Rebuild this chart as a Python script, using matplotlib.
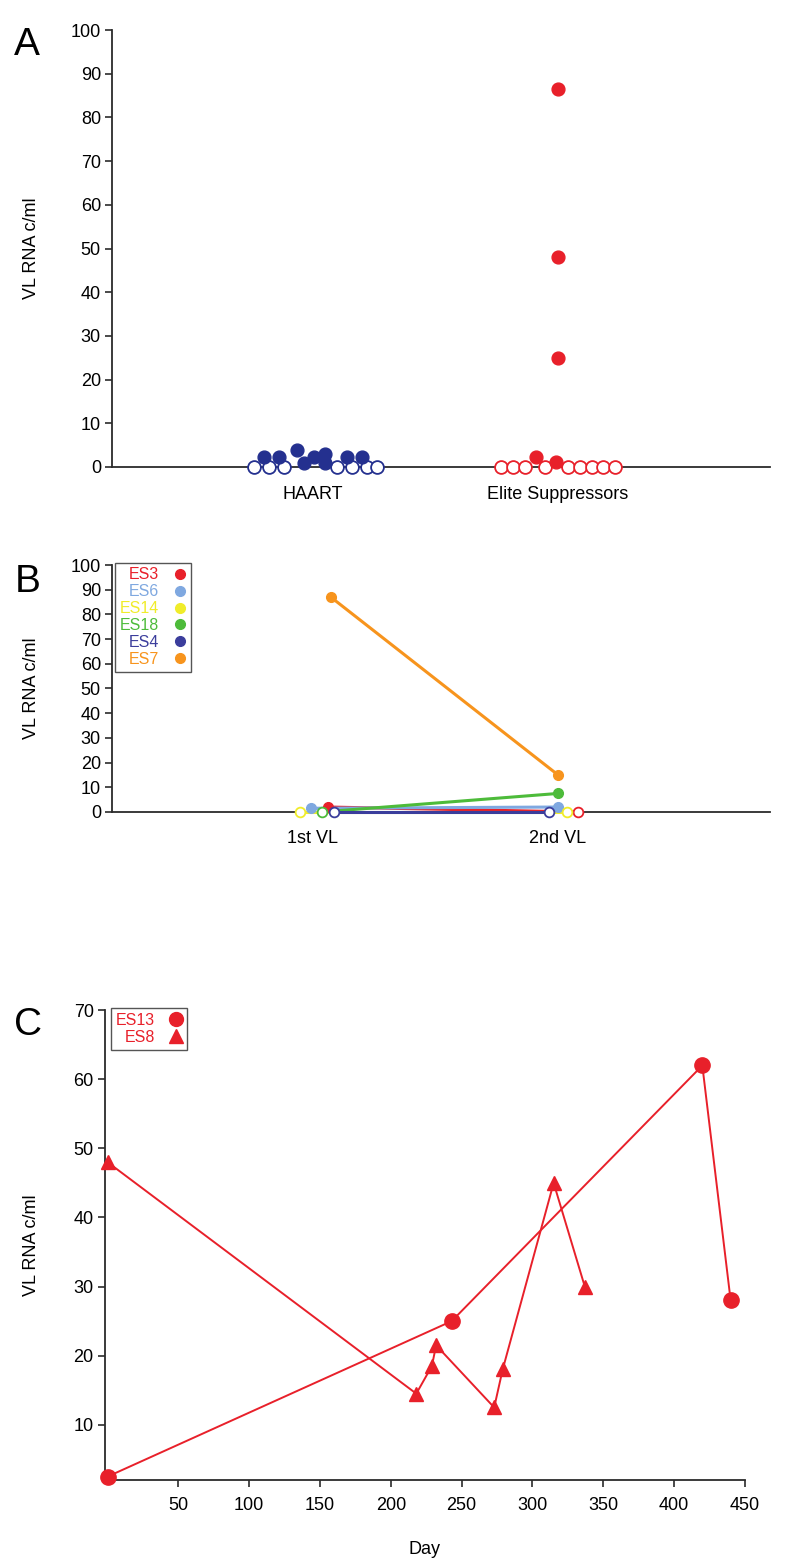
import numpy as np
import matplotlib.pyplot as plt
from matplotlib.lines import Line2D

plt.rcParams['font.family'] = ['Liberation Sans', 'DejaVu Sans']

# panel A: viral load per group, x jitter around category
groups = ['HAART', 'Elite Suppressors']
haart_det_dx = [-0.2, -0.14, -0.065, -0.035, 0.005, 0.05, 0.05, 0.14, 0.2]
haart_det_vl = [2.2, 2.2, 3.9, 0.8, 2.2, 2.9, 0.8, 2.2, 2.2]
haart_und_dx = [-0.24, -0.18, -0.12, 0.1, 0.16, 0.22, 0.26]
es_det_dx = [0.0, 0.0, 0.0, -0.09, -0.008]
es_det_vl = [86.5, 48, 25, 2.2, 1.2]
es_und_dx = [-0.232, -0.184, -0.136, -0.053, 0.042, 0.090, 0.138, 0.185, 0.232]

# panel B: paired viral loads
visits = ['1st VL', '2nd VL']
b_ids = ['ES3', 'ES6', 'ES14', 'ES18', 'ES4', 'ES7']
b_colors = ['#e8202a', '#7fa8e0', '#f0ec2a', '#4dbb3a', '#3b3d9c', '#f7941d']
b_first = [2.0, 1.5, 0.0, 0.0, 0.0, 87.0]
b_second = [0.0, 2.0, 0.0, 7.5, 0.0, 15.0]
b_first_dx = [0.061, -0.008, -0.053, 0.037, 0.086, 0.073]
b_second_dx = [0.082, 0.0, 0.037, 0.0, -0.037, 0.0]

# panel C: follow-up over days
es13_day = [0, 243, 420, 440]
es13_vl = [2.5, 25, 62, 28]
es8_day = [0, 218, 229, 232, 273, 279, 315, 337]
es8_vl = [48, 14.5, 18.5, 21.5, 12.5, 18, 45, 30]

red = '#e8202a'
navy = '#24308f'
spine_c = '#2b2b2b'

fig = plt.figure(figsize=(8, 15.66), dpi=100)
axA = fig.add_axes([0.14, 0.7018, 0.8225, 0.279])
axB = fig.add_axes([0.14, 0.4815, 0.8225, 0.1577])
axC = fig.add_axes([0.131, 0.0549, 0.800, 0.300])

def style(ax):
    for s in ['top', 'right']:
        ax.spines[s].set_visible(False)
    for s in ['left', 'bottom']:
        ax.spines[s].set_linewidth(1.3)
        ax.spines[s].set_color(spine_c)
    ax.tick_params(axis='y', direction='out', length=5, width=1.2, color=spine_c, labelsize=13, pad=3)
    ax.set_ylabel('VL RNA c/ml', fontsize=13)

# --- A
style(axA)
axA.scatter(1 + np.array(haart_und_dx), np.zeros(len(haart_und_dx)), s=85,
            facecolor='white', edgecolor=navy, linewidth=1.3, zorder=3, clip_on=False)
axA.scatter(1 + np.array(haart_det_dx), haart_det_vl, s=85, color=navy, zorder=4, clip_on=False)
axA.scatter(2 + np.array(es_und_dx), np.zeros(len(es_und_dx)), s=85,
            facecolor='white', edgecolor=red, linewidth=1.3, zorder=3, clip_on=False)
axA.scatter(2 + np.array(es_det_dx), es_det_vl, s=85, color=red, zorder=4, clip_on=False)
axA.set_xlim(0.18, 2.865)
axA.set_ylim(0, 100)
axA.set_yticks(range(0, 101, 10))
axA.set_xticks([1, 2])
axA.set_xticklabels(groups, fontsize=13)
axA.tick_params(axis='x', length=0, pad=14)
axA.yaxis.set_label_coords(-0.109, 0.5)

# --- B
style(axB)
for i in range(len(b_ids)):
    x1 = 1 + b_first_dx[i]
    x2 = 2 + b_second_dx[i]
    c = b_colors[i]
    axB.plot([x1, x2], [b_first[i], b_second[i]], color=c, linewidth=2.2, zorder=3 + i * 0.1,
             clip_on=False)
    for x, v in [(x1, b_first[i]), (x2, b_second[i])]:
        if v == 0:
            axB.plot(x, v, 'o', markersize=7, markerfacecolor='white', markeredgecolor=c,
                     markeredgewidth=1.3, zorder=5, clip_on=False)
        else:
            axB.plot(x, v, 'o', markersize=7, color=c, zorder=5, clip_on=False)
axB.set_xlim(0.18, 2.865)
axB.set_ylim(0, 100)
axB.set_yticks(range(0, 101, 10))
axB.set_xticks([1, 2])
axB.set_xticklabels(visits, fontsize=13)
axB.tick_params(axis='x', length=0, pad=13)
axB.yaxis.set_label_coords(-0.109, 0.5)
handles = [Line2D([], [], marker='o', linestyle='none', color=c, markersize=7) for c in b_colors]
leg = axB.legend(handles, b_ids, loc='upper left', bbox_to_anchor=(0.005, 1.01), markerfirst=False,
                 fontsize=11.5, frameon=True, fancybox=False, borderpad=0.3, labelspacing=0.12,
                 handletextpad=0.9, handlelength=0.8, borderaxespad=0)
leg.get_frame().set_edgecolor(spine_c)
leg.get_frame().set_linewidth(1.0)
for t, c in zip(leg.get_texts(), b_colors):
    t.set_color(c)

# --- C
style(axC)
axC.plot(es13_day, es13_vl, color=red, linewidth=1.4, marker='o', markersize=11, zorder=3, clip_on=False)
axC.plot(es8_day, es8_vl, color=red, linewidth=1.4, marker='^', markersize=10.5, zorder=3, clip_on=False)
axC.set_xlim(-2, 450)
axC.set_ylim(2, 70)
axC.set_yticks(range(10, 71, 10))
axC.set_xticks(range(50, 451, 50))
axC.tick_params(axis='x', direction='out', length=5, width=1.2, color=spine_c, labelsize=13, pad=7)
axC.set_xlabel('Day', fontsize=13, labelpad=20)
axC.yaxis.set_label_coords(-0.102, 0.5)
handles = [Line2D([], [], marker='o', linestyle='none', color=red, markersize=10),
           Line2D([], [], marker='^', linestyle='none', color=red, markersize=10)]
leg = axC.legend(handles, ['ES13', 'ES8'], loc='upper left', bbox_to_anchor=(0.01, 1.005), markerfirst=False,
                 fontsize=11.5, frameon=True, fancybox=False, borderpad=0.3, labelspacing=0.15,
                 handletextpad=0.9, handlelength=0.8, borderaxespad=0)
leg.get_frame().set_edgecolor(spine_c)
leg.get_frame().set_linewidth(1.0)
for t in leg.get_texts():
    t.set_color(red)

fig.text(0.018, 1 - 45 / 1566, 'A', fontsize=28, va='center', ha='left')
fig.text(0.018, 1 - 582 / 1566, 'B', fontsize=28, va='center', ha='left')
fig.text(0.018, 1 - 1025 / 1566, 'C', fontsize=28, va='center', ha='left')

fig.savefig('out.png', dpi=100, facecolor='white')
